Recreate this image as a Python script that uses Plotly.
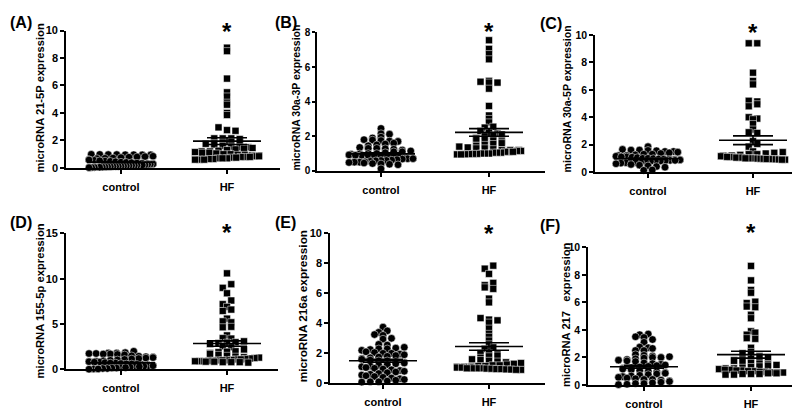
import numpy as np
import plotly.graph_objects as go

W, H = 800, 414
FONT = "Liberation Sans"

categories = ["control", "HF"]
panel_letters = ["(A)", "(B)", "(C)", "(D)", "(E)", "(F)"]
y_titles = [
    "microRNA 21-5P expression",
    "microRNA 30a-3P expression",
    "microRNA 30a-5P expression",
    "microRNA 155-5p expression",
    "microRNA 216a expression",
    "microRNA 217   expression",
]
y_max = [10, 8, 10, 15, 10, 10]
y_dtick = [2, 2, 2, 5, 2, 2]

ctrl_A = [0.98, 0.97, 0.96, 0.95, 0.99, 0.97, 0.96, 0.95, 0.85, 0.8, 0.82, 0.78, 0.75, 0.7,
          0.72, 0.68, 0.6, 0.55, 0.58, 0.5, 0.52, 0.48, 0.45, 0.42, 0.4, 0.38, 0.35, 0.33,
          0.3, 0.32, 0.28, 0.27, 0.25, 0.22, 0.2, 0.21, 0.19, 0.18, 0.17, 0.15, 0.14, 0.13,
          0.12, 0.11, 0.1, 0.1, 0.09, 0.08, 0.07, 0.06, 0.05, 0.05, 0.04, 0.03, 0.02]
hf_A = [8.75, 8.5, 6.5, 5.5, 5.2, 4.75, 4.6, 4.0, 3.85, 2.95, 2.75, 2.7, 2.15, 2.15, 2.15,
        2.1, 1.95, 1.9, 1.85, 1.8, 1.75, 1.7, 1.6, 1.55, 1.5, 1.5, 1.45, 1.4, 1.35, 1.3,
        1.25, 1.2, 1.2, 1.15, 1.1, 1.1, 1.05, 1.0, 1.0, 0.95, 0.95, 0.9, 0.9, 0.85, 0.85,
        0.8, 0.8, 0.8, 0.75, 0.75, 0.7, 0.7, 0.7, 0.65, 0.65, 0.6, 0.6, 0.6]

ctrl_B = [2.45, 2.12, 2.15, 1.9, 1.95, 1.8, 1.78, 1.75, 1.7, 1.72, 1.6, 1.55, 1.5, 1.45,
          1.35, 1.3, 1.3, 1.28, 1.25, 1.2, 1.15, 1.1, 1.1, 1.05, 1.0, 1.0, 0.98, 0.95, 0.92,
          0.9, 0.9, 0.88, 0.85, 0.82, 0.8, 0.8, 0.78, 0.75, 0.72, 0.7, 0.7, 0.68, 0.65,
          0.62, 0.6, 0.6, 0.58, 0.55, 0.52, 0.5, 0.5, 0.48, 0.45, 0.42, 0.4, 0.38, 0.35, 0.12]
hf_B = [7.55, 7.05, 6.75, 6.45, 5.2, 5.15, 5.1, 5.1, 4.75, 3.75, 3.2, 3.0, 2.8, 2.5, 2.55,
        2.3, 2.2, 2.15, 2.1, 2.05, 2.0, 1.9, 1.85, 1.8, 1.75, 1.7, 1.6, 1.55, 1.5, 1.45,
        1.4, 1.35, 1.3, 1.3, 1.25, 1.2, 1.2, 1.2, 1.15, 1.15, 1.1, 1.1, 1.1, 1.05, 1.05,
        1.05, 1.0, 1.0, 1.0, 0.98, 0.98, 0.97, 0.96, 0.95, 0.95]

ctrl_C = [1.85, 1.65, 1.6, 1.6, 1.58, 1.55, 1.5, 1.5, 1.45, 1.4, 1.35, 1.3, 1.3, 1.25, 1.2,
          1.2, 1.15, 1.1, 1.1, 1.08, 1.05, 1.0, 1.0, 0.98, 0.95, 0.95, 0.92, 0.9, 0.9, 0.88,
          0.85, 0.85, 0.82, 0.8, 0.8, 0.78, 0.75, 0.72, 0.7, 0.7, 0.68, 0.65, 0.6, 0.55,
          0.5, 0.45, 0.4, 0.35, 0.15, 0.12]
hf_C = [9.4, 9.4, 7.25, 6.65, 6.4, 5.2, 5.15, 4.95, 4.8, 4.0, 3.9, 3.85, 3.5, 3.1, 2.9, 2.85,
        2.25, 2.05, 1.85, 1.5, 1.45, 1.4, 1.35, 1.3, 1.3, 1.25, 1.2, 1.2, 1.15, 1.15, 1.1,
        1.1, 1.1, 1.05, 1.05, 1.05, 1.0, 1.0, 1.0, 1.0, 0.98, 0.97, 0.96, 0.95, 0.95,
        0.94, 0.93, 0.92, 0.9, 0.9]

ctrl_D = [2.0, 1.85, 1.8, 1.8, 1.75, 1.75, 1.7, 1.7, 1.65, 1.6, 1.5, 1.45, 1.4, 1.35, 1.3,
          1.25, 1.2, 1.15, 1.1, 1.05, 1.0, 0.95, 0.9, 0.9, 0.85, 0.8, 0.8, 0.75, 0.7, 0.7,
          0.65, 0.6, 0.6, 0.55, 0.5, 0.5, 0.45, 0.4, 0.4, 0.35, 0.3, 0.3, 0.25, 0.2, 0.2,
          0.15, 0.15, 0.1, 0.1, 0.05, 0.05, 0.02]
hf_D = [10.6, 9.4, 9.0, 8.4, 7.6, 7.2, 6.9, 6.6, 6.45, 5.6, 5.3, 5.2, 4.7, 4.65, 3.75, 3.45,
        3.4, 3.1, 3.0, 2.95, 2.9, 2.8, 2.55, 2.45, 2.2, 2.0, 1.95, 1.9, 1.8, 1.7, 1.6, 1.5,
        1.4, 1.35, 1.3, 1.25, 1.2, 1.15, 1.1, 1.1, 1.05, 1.0, 1.0, 1.0, 0.95, 0.95, 0.9,
        0.9, 0.9, 0.85, 0.85, 0.8, 0.8, 0.8, 0.75]

ctrl_E = [3.75, 3.5, 3.4, 3.25, 3.2, 3.0, 2.95, 2.6, 2.55, 2.4, 2.35, 2.3, 2.3, 2.25, 2.2,
          2.1, 2.05, 2.0, 2.0, 1.95, 1.9, 1.85, 1.8, 1.75, 1.7, 1.65, 1.6, 1.55, 1.5, 1.5,
          1.45, 1.4, 1.35, 1.3, 1.25, 1.2, 1.15, 1.1, 1.05, 1.0, 0.95, 0.9, 0.85, 0.8,
          0.75, 0.7, 0.65, 0.6, 0.55, 0.5, 0.45, 0.4, 0.35, 0.3, 0.25, 0.2, 0.15, 0.1,
          0.1, 0.08]
hf_E = [7.85, 7.65, 7.3, 6.7, 6.55, 6.4, 6.3, 5.65, 5.4, 4.35, 4.25, 4.2, 4.05, 3.65, 3.3,
        3.1, 2.85, 2.6, 2.4, 2.3, 2.0, 2.0, 1.95, 1.85, 1.8, 1.7, 1.6, 1.55, 1.5, 1.45,
        1.4, 1.35, 1.3, 1.25, 1.2, 1.2, 1.15, 1.15, 1.1, 1.1, 1.1, 1.05, 1.05, 1.0, 1.0,
        1.0, 1.0, 0.98, 0.97, 0.95, 0.95, 0.93, 0.92, 0.9, 0.9]

ctrl_F = [3.7, 3.65, 3.5, 3.45, 3.3, 3.1, 2.75, 2.7, 2.65, 2.5, 2.5, 2.2, 2.15, 2.1, 2.05,
          2.0, 2.0, 1.95, 1.9, 1.85, 1.8, 1.75, 1.7, 1.6, 1.55, 1.5, 1.45, 1.4, 1.35, 1.3,
          1.25, 1.2, 1.15, 1.1, 1.05, 1.0, 0.95, 0.9, 0.85, 0.8, 0.75, 0.7, 0.65, 0.6,
          0.55, 0.5, 0.45, 0.4, 0.4, 0.35, 0.3, 0.25, 0.2, 0.15, 0.1, 0.1, 0.05, 0.02]
hf_F = [8.65, 7.6, 6.9, 6.7, 6.05, 5.95, 5.7, 5.65, 5.1, 4.85, 3.9, 3.8, 3.65, 3.4, 3.35,
        2.7, 2.4, 2.3, 2.2, 2.1, 2.0, 2.0, 1.9, 1.85, 1.8, 1.75, 1.7, 1.6, 1.55, 1.5, 1.45,
        1.4, 1.35, 1.3, 1.25, 1.2, 1.2, 1.15, 1.1, 1.1, 1.05, 1.05, 1.0, 1.0, 0.95, 0.95,
        0.9, 0.9, 0.9, 0.85, 0.85, 0.8, 0.8, 0.8, 0.75, 0.75]

ctrl_values = [ctrl_A, ctrl_B, ctrl_C, ctrl_D, ctrl_E, ctrl_F]
hf_values = [hf_A, hf_B, hf_C, hf_D, hf_E, hf_F]

mean_ctrl = [0.42, 0.98, 0.97, 0.72, 1.50, 1.32]
sem_ctrl = [0.04, 0.06, 0.05, 0.07, 0.10, 0.10]
mean_hf = [1.95, 2.22, 2.32, 2.85, 2.45, 2.20]
sem_hf = [0.25, 0.22, 0.32, 0.30, 0.25, 0.25]

# ---- panel geometry in pixels (layout only) ----
PANELS = [
    dict(xl=58, xr=272, xc=113, xh=219, y0=158.5, yt=17, lx=0, ly=9, tx=32, ty=87, sy=2, ts=11.2, fs=11, tl=4),
    dict(xl=309, xr=537, xc=373, xh=481, y0=161.5, yt=19, lx=265, ly=9, tx=288, ty=86, sy=2, ts=10.5, fs=10, tl=3),
    dict(xl=587, xr=800, xc=640, xh=745, y0=162.7, yt=21.7, lx=530, ly=10, tx=559, ty=88, sy=3, ts=10.6, fs=10.5, tl=4),
    dict(xl=58, xr=270, xc=113, xh=219, y0=366, yt=226, lx=0, ly=215, tx=32, ty=296, sy=209, ts=11.2, fs=11, tl=4),
    dict(xl=322, xr=537, xc=375, xh=481, y0=380.3, yt=226, lx=265, ly=215, tx=295, ty=301, sy=210, ts=11.8, fs=11, tl=4),
    dict(xl=580, xr=800, xc=636, xh=743, y0=382, yt=240.3, lx=530, ly=218, tx=558, ty=310, sy=209, ts=11.2, fs=10.5, tl=4),
]


def swarm(vals, ppu_y, u, row_h=4.2, max_sp=8.5, max_half=32.0):
    v = np.asarray(vals, dtype=float)
    rows = np.floor(v * ppu_y / row_h).astype(int)
    x = np.zeros(len(v))
    for r in np.unique(rows):
        idx = np.where(rows == r)[0]
        idx = idx[np.argsort(v[idx])]
        n = len(idx)
        sp = max_sp if n <= 1 else min(max_sp, 2 * max_half / (n - 1))
        offs = (np.arange(n) - (n - 1) / 2) * sp
        if r % 2 == 1:
            offs = offs[::-1]
        x[idx] = offs / u
    return x


fig = go.Figure()
layout = dict(
    width=W, height=H, margin=dict(l=0, r=0, t=0, b=0),
    paper_bgcolor="white", plot_bgcolor="white", showlegend=False,
    font=dict(family=FONT, color="black"),
)
annotations = []
bold = dict(family=FONT, color="black", weight="bold")

for i, p in enumerate(PANELS):
    k = "" if i == 0 else str(i + 1)
    u = p["xh"] - p["xc"]
    ppu_y = (p["y0"] - p["yt"]) / y_max[i]
    xa, ya = "x" + k, "y" + k

    for g, (vals, sym, size) in enumerate([(ctrl_values[i], "circle", 7.6),
                                           (hf_values[i], "square", 7.0)]):
        xs = g + swarm(vals, ppu_y, u)
        fig.add_trace(go.Scatter(
            x=xs, y=vals, mode="markers", xaxis=xa, yaxis=ya, cliponaxis=False,
            marker=dict(symbol=sym, size=size, color="black",
                        line=dict(color="white", width=0.5)),
            hoverinfo="y",
        ))

    # mean +/- SEM lines
    hw, sw = 34 / u, 20 / u
    lx, ly = [], []
    for g, (m, s) in enumerate([(mean_ctrl[i], sem_ctrl[i]), (mean_hf[i], sem_hf[i])]):
        lx += [g - hw, g + hw, None, g - sw, g + sw, None, g - sw, g + sw, None, g, g, None]
        ly += [m, m, None, m + s, m + s, None, m - s, m - s, None, m - s, m + s, None]
    fig.add_trace(go.Scatter(x=lx, y=ly, mode="lines", xaxis=xa, yaxis=ya,
                             cliponaxis=False, line=dict(color="black", width=1.6),
                             hoverinfo="skip"))

    layout["xaxis" + k] = dict(
        domain=[p["xl"] / W, p["xr"] / W],
        range=[(p["xl"] - p["xc"]) / u, (p["xr"] - p["xc"]) / u],
        anchor=ya, tickmode="array", tickvals=[0, 1], ticktext=categories,
        ticks="outside", ticklen=4, tickwidth=1.5, tickcolor="black",
        showline=True, linecolor="black", linewidth=1.6,
        showgrid=False, zeroline=False, fixedrange=True,
        tickfont=dict(bold, size=11), ticklabelstandoff=4,
    )
    layout["yaxis" + k] = dict(
        domain=[1 - p["y0"] / H, 1 - p["yt"] / H],
        range=[0, y_max[i]], anchor=xa, tick0=0, dtick=y_dtick[i],
        ticks="outside", ticklen=p["tl"], tickwidth=1.5, tickcolor="black",
        showline=True, linecolor="black", linewidth=1.6,
        showgrid=False, zeroline=False, fixedrange=True,
        tickfont=dict(bold, size=p["fs"]),
    )

    annotations.append(dict(text=panel_letters[i], xref="paper", yref="paper",
                            x=p["lx"] / W, y=1 - p["ly"] / H, xanchor="left",
                            yanchor="middle", showarrow=False,
                            font=dict(bold, size=16)))
    annotations.append(dict(text=y_titles[i], xref="paper", yref="paper",
                            x=p["tx"] / W, y=1 - p["ty"] / H, xanchor="center",
                            yanchor="middle", textangle=-90, showarrow=False,
                            font=dict(bold, size=p["ts"])))
    annotations.append(dict(text="*", xref=xa, yref="paper", x=1,
                            y=1 - p["sy"] / H, xanchor="center", yanchor="top",
                            showarrow=False, font=dict(bold, size=24)))

layout["annotations"] = annotations
fig.update_layout(**layout)
fig.write_html("out.html")
